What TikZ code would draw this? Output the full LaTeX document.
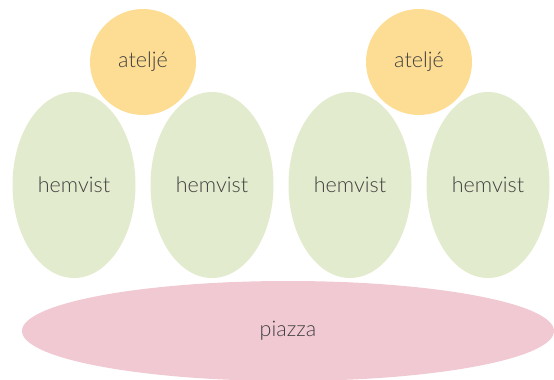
\documentclass[tikz,border=0pt]{standalone}
\usepackage{fontspec}
\usepackage{tikz}
\usetikzlibrary{shapes.geometric}
\newfontfamily\lightfont{Lato Light}
\definecolor{atelje}{HTML}{FDDD93}
\definecolor{hemvist}{HTML}{E2EBCD}
\definecolor{piazza}{HTML}{F1C9D3}
\definecolor{txt}{HTML}{404040}
\tikzset{
    every node/.style={draw=none, inner sep=0pt, text=txt,
    	font=\lightfont\fontsize{21.5}{24}\selectfont},
    room/.style={circle, fill=atelje, minimum size=106pt},
    home/.style={ellipse, fill=hemvist, minimum width=123pt, minimum height=186pt},
    square/.style={ellipse, fill=piazza, minimum width=532pt, minimum height=100pt}
}
\begin{document}
\begin{tikzpicture}[x=1pt, y=-1pt]
	\useasboundingbox (0,0) rectangle (554,380);
	\node [room] (a1) at (143,62) {atelj\'e};
	\node [room] (a2) at (419,62) {atelj\'e};
	\node [home] (h1) at (74,185) {hemvist};
	\node [home] (h2) at (212,185) {hemvist};
	\node [home] (h3) at (350,185) {hemvist};
	\node [home] (h4) at (488,185) {hemvist};
	\node [square] (p) at (288,331) {piazza};
\end{tikzpicture}
\end{document}
